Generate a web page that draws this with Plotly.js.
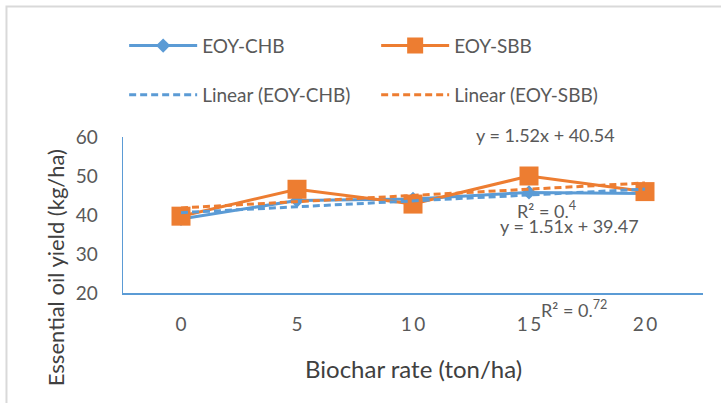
<!DOCTYPE html>
<html>
<head>
<meta charset="utf-8">
<script src="https://cdn.plot.ly/plotly-3.0.1.min.js"></script>
<style>html,body{margin:0;padding:0;background:#fff;}#chart{width:721px;height:403px;}</style>
</head>
<body>
<div id="chart"></div>
<script>
// Data
const biocharRates = [0, 5, 10, 15, 20];
const tickLabels = ['0', '5', '1\u20090', '1\u20095', '2\u20090'];
const eoyCHB = [39.0, 43.7, 44.1, 45.8, 45.5];
const eoySBB = [39.7, 46.6, 42.8, 50.0, 46.0];
const eqCHB = 'y = 1.51x + 39.47';
const eqSBB = 'y = 1.52x + 40.54';
const r2CHB = 'R² = 0.<sup>72</sup>';
const r2SBB = 'R² = 0.<sup>4</sup>';

// Linear trendline (least squares, as Excel does) from the data
function linearFit(xs, ys) {
  const n = xs.length;
  const mx = xs.reduce((a, b) => a + b, 0) / n;
  const my = ys.reduce((a, b) => a + b, 0) / n;
  let sxy = 0, sxx = 0;
  for (let i = 0; i < n; i++) { sxy += (xs[i] - mx) * (ys[i] - my); sxx += (xs[i] - mx) ** 2; }
  const m = sxy / sxx, b = my - m * mx;
  return xs.map(x => m * x + b);
}
const trendCHB = linearFit(biocharRates, eoyCHB);
const trendSBB = linearFit(biocharRates, eoySBB);

const BLUE = '#5B9BD5', ORANGE = '#ED7D31', TXT = '#595959';
const FONT = 'Lato, "Open Sans", sans-serif';

const traces = [
  {x: biocharRates, y: eoyCHB, name: 'EOY-CHB', type: 'scatter', mode: 'lines+markers',
   line: {color: BLUE, width: 3}, marker: {symbol: 'diamond', size: 11, color: BLUE}, legend: 'legend'},
  {x: biocharRates, y: eoySBB, name: 'EOY-SBB', type: 'scatter', mode: 'lines+markers',
   line: {color: ORANGE, width: 3}, marker: {symbol: 'square', size: 19, color: ORANGE}, legend: 'legend'},
  {x: biocharRates, y: trendCHB, name: 'Linear (EOY-CHB)', type: 'scatter', mode: 'lines',
   line: {color: BLUE, width: 3, dash: '7px,4px'}, legend: 'legend2'},
  {x: biocharRates, y: trendSBB, name: 'Linear (EOY-SBB)', type: 'scatter', mode: 'lines',
   line: {color: ORANGE, width: 3, dash: '7px,4px'}, legend: 'legend2'}
];

const legendCommon = {
  orientation: 'h', xanchor: 'left', yanchor: 'middle',
  font: {family: FONT, size: 19, color: TXT},
  bgcolor: 'rgba(0,0,0,0)', entrywidth: 169, entrywidthmode: 'pixels', itemwidth: 68,
  itemclick: false, itemdoubleclick: false
};

const layout = {
  width: 721, height: 403,
  margin: {l: 123, r: 18, t: 137, b: 110},
  paper_bgcolor: '#ffffff', plot_bgcolor: '#ffffff',
  font: {family: FONT, color: TXT},
  showlegend: true,
  legend: Object.assign({}, legendCommon, {x: 0.002, y: 1.585}),
  legend2: Object.assign({}, legendCommon, {x: 0.002, y: 1.27}),
  xaxis: {
    range: [-2.5, 22.5], tickvals: biocharRates, ticktext: tickLabels,
    showgrid: false, zeroline: false, showline: true, linecolor: BLUE, linewidth: 1.5,
    ticks: 'outside', ticklen: 14, tickcolor: 'rgba(0,0,0,0)',
    tickfont: {family: FONT, size: 19, color: TXT}, fixedrange: true
  },
  yaxis: {
    range: [20, 60], tickvals: [20, 30, 40, 50, 60],
    showgrid: false, zeroline: false, showline: true, linecolor: BLUE, linewidth: 1.5,
    ticks: 'outside', ticklen: 20, tickcolor: 'rgba(0,0,0,0)',
    tickfont: {family: FONT, size: 19, color: TXT}, fixedrange: true
  },
  annotations: [
    {text: eqSBB, xref: 'paper', yref: 'paper', x: 0.729, y: 1.0128, xanchor: 'center', yanchor: 'middle',
     showarrow: false, font: {family: FONT, size: 18, color: TXT}},
    {text: r2SBB, xref: 'paper', yref: 'paper', x: 0.676, y: 0.53, xanchor: 'left', yanchor: 'middle',
     showarrow: false, font: {family: FONT, size: 18, color: TXT}},
    {text: eqCHB, xref: 'paper', yref: 'paper', x: 0.6466, y: 0.429, xanchor: 'left', yanchor: 'middle',
     showarrow: false, font: {family: FONT, size: 18, color: TXT}},
    {text: r2CHB, xref: 'paper', yref: 'paper', x: 0.7166, y: -0.10, xanchor: 'left', yanchor: 'middle',
     showarrow: false, font: {family: FONT, size: 18, color: TXT}},
    {text: 'Biochar rate (ton/ha)', xref: 'paper', yref: 'paper', x: 0.5, y: -0.487, xanchor: 'center', yanchor: 'middle',
     showarrow: false, font: {family: FONT, size: 24, color: '#404040'}},
    {text: 'Essential oil yield (kg/ha)', xref: 'paper', yref: 'paper', x: -0.117, y: 0.16, xanchor: 'center', yanchor: 'middle',
     textangle: -90, showarrow: false, font: {family: FONT, size: 22, color: '#404040'}}
  ],
  shapes: [
    {type: 'rect', xref: 'paper', yref: 'paper', x0: -0.2009, x1: 3, y0: -3, y1: 1.8365,
     line: {color: '#D9D9D9', width: 2}, fillcolor: 'rgba(0,0,0,0)', layer: 'below'}
  ]
};

Plotly.newPlot('chart', traces, layout, {displayModeBar: false, staticPlot: true});
</script>
</body>
</html>
